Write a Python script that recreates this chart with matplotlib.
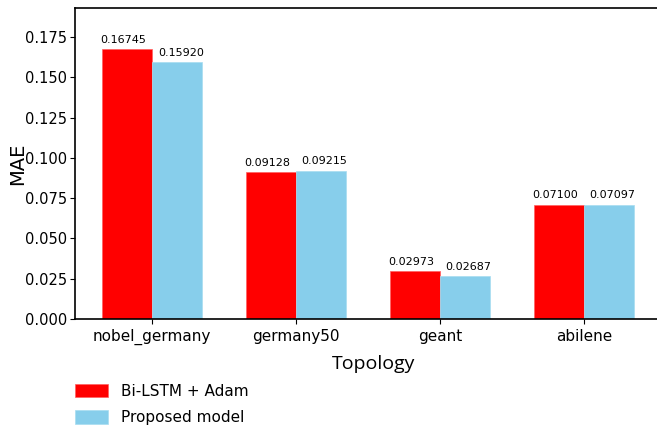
import matplotlib
matplotlib.use("Agg")
import matplotlib.pyplot as plt
import numpy as np

categories = ["nobel_germany", "germany50", "geant", "abilene"]
bilstm = [0.16745, 0.09128, 0.02973, 0.07100]
proposed = [0.15920, 0.09215, 0.02687, 0.07097]
series_names = ["Bi-LSTM + Adam", "Proposed model"]

fig = plt.figure(figsize=(6.57, 4.30), dpi=100)
ax = fig.add_axes([75/657, (430-319)/430, (661-75)/657, (319-8)/430])

x = np.arange(len(categories))
w = 0.35
b1 = ax.bar(x - w/2, bilstm, w, color="#ff0000", edgecolor="#ff6060", linewidth=0.5, label=series_names[0])
b2 = ax.bar(x + w/2, proposed, w, color="#87ceeb", edgecolor="#a8dcf0", linewidth=0.5, label=series_names[1])

for bars, vals, dx in ((b1, bilstm, -2.5), (b2, proposed, 2.5)):
    for r, v in zip(bars, vals):
        ax.annotate(f"{v:.5f}", (r.get_x() + r.get_width()/2, v), xytext=(dx, 3),
                    textcoords="offset points", ha="center", va="bottom", fontsize=8)

ax.set_xlim(-0.535, 3.535)
ax.set_ylim(0, 0.193)
ax.set_yticks(np.arange(0, 0.176, 0.025))
ax.set_yticklabels([f"{t:.3f}" for t in np.arange(0, 0.176, 0.025)])
ax.set_xticks(x)
ax.set_xticklabels(categories)
ax.tick_params(axis="y", labelsize=10.5, pad=2)
ax.tick_params(axis="x", labelsize=11)
ax.spines["right"].set_visible(False)
for s in ("left", "bottom", "top"):
    ax.spines[s].set_linewidth(1.2)

ax.set_xlabel("Topology", fontsize=14, family="Open Sans")
ax.xaxis.set_label_coords((374 - 75) / 586, -36 / 311)
ax.set_ylabel("MAE", fontsize=14)
ax.yaxis.set_label_coords(-48/586, 0.5)

fig.legend(handles=[b1, b2], labels=series_names, loc="upper left",
           bbox_to_anchor=(61/657, 1 - 370/430), frameon=False, fontsize=11,
           handlelength=2.2, handleheight=1.0, labelspacing=0.75)

fig.savefig("out.png", dpi=100)
